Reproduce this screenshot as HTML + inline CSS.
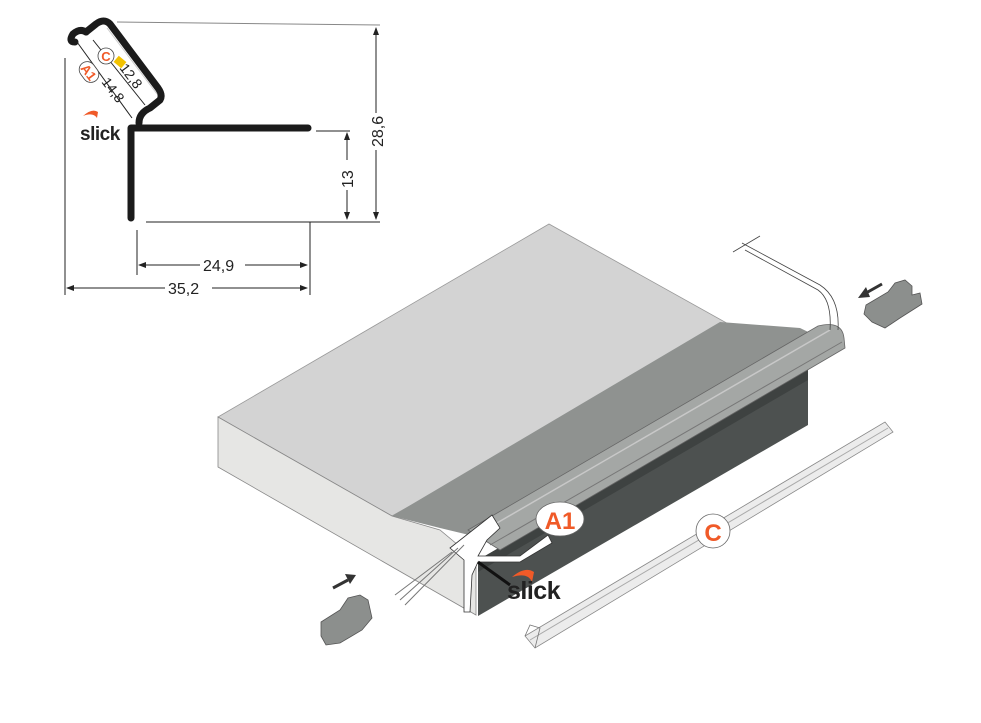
<!DOCTYPE html>
<html><head><meta charset="utf-8"><style>
html,body{margin:0;padding:0;background:#fff;}
svg{display:block;font-family:"Liberation Sans",sans-serif;}
</style></head><body>
<svg width="981" height="723" viewBox="0 0 981 723" xmlns="http://www.w3.org/2000/svg">
<defs>
<marker id="ar" markerWidth="8" markerHeight="8" refX="7" refY="4" orient="auto" markerUnits="userSpaceOnUse"><path d="M0,1 L8,4 L0,7 z" fill="#222"/></marker>
<marker id="al" markerWidth="8" markerHeight="8" refX="1" refY="4" orient="auto" markerUnits="userSpaceOnUse"><path d="M8,1 L0,4 L8,7 z" fill="#222"/></marker>
</defs>
<!-- top-left profile drawing -->
<g stroke="#222" stroke-width="1" fill="none">
<line x1="117" y1="22" x2="380" y2="25" stroke="#888"/>
<line x1="65" y1="58" x2="65" y2="295"/>
<line x1="137" y1="230" x2="137" y2="275"/>
<line x1="310" y1="222" x2="310" y2="295"/>
<line x1="146" y1="222" x2="380" y2="222"/>
<line x1="316" y1="131" x2="350" y2="131"/>
<line x1="376" y1="28" x2="376" y2="113" marker-start="url(#al)"/>
<line x1="376" y1="150" x2="376" y2="219" marker-end="url(#ar)"/>
<line x1="347" y1="133" x2="347" y2="160" marker-start="url(#al)"/>
<line x1="347" y1="190" x2="347" y2="219" marker-end="url(#ar)"/>
<line x1="139" y1="265" x2="200" y2="265" marker-start="url(#al)"/>
<line x1="245" y1="265" x2="307" y2="265" marker-end="url(#ar)"/>
<line x1="67" y1="288" x2="165" y2="288" marker-start="url(#al)"/>
<line x1="212" y1="288" x2="307" y2="288" marker-end="url(#ar)"/>
</g>
<g fill="none" stroke="#1b1b1b" stroke-width="7" stroke-linecap="round" stroke-linejoin="round">
<path d="M131,218 L131,128 L308,128"/>
<path d="M139,123 Q139,113 150,108 L160,100 Q163,95 158,88 L110,24 Q104,18 96,24 L86,32"/>
<path d="M86,32 Q80,28 73,34 Q68,42 75,42"/>
</g>
<line x1="107" y1="28" x2="157" y2="94" stroke="#ccc" stroke-width="1"/>
<rect x="115" y="58" width="10" height="8" fill="#f2c200" transform="rotate(40 120 62)"/>
<g stroke="#222" stroke-width="1" fill="none">
<line x1="77" y1="42" x2="132" y2="118"/>
<line x1="93" y1="40" x2="145" y2="105"/>
</g>
<text x="0" y="0" font-size="16" fill="#222" transform="translate(383,147) rotate(-90)">28,6</text>
<text x="0" y="0" font-size="16" fill="#222" transform="translate(353,188) rotate(-90)">13</text>
<text x="203" y="271" font-size="16" fill="#222">24,9</text>
<text x="168" y="294" font-size="16" fill="#222">35,2</text>
<text x="0" y="0" font-size="14" fill="#222" transform="translate(119,68) rotate(53)">12,8</text>
<text x="0" y="0" font-size="14" fill="#222" transform="translate(101,82) rotate(53)">14,8</text>
<g transform="translate(89,72) rotate(53)"><rect x="-11" y="-8" width="22" height="16" rx="8" fill="#fff" stroke="#444" stroke-width="0.8"/><text x="0" y="5" font-size="13" font-weight="bold" fill="#f05a28" text-anchor="middle">A1</text></g>
<circle cx="106" cy="56" r="8" fill="#fff" stroke="#444" stroke-width="0.8"/>
<text x="106" y="61" font-size="13" font-weight="bold" fill="#f05a28" text-anchor="middle">C</text>
<path d="M83,116 Q92,108 98,112 L97,118 Q93,112 83,116z" fill="#f05a28"/>
<text x="80" y="140" font-size="19" font-weight="bold" fill="#222" letter-spacing="-0.5">slick</text>

<!-- board -->
<polygon points="218,417 549,224 732,326 392,516" fill="#d3d3d3" stroke="#999" stroke-width="0.8"/>
<polygon points="392,516 720,322 800,328 835,345 490,540 440,528" fill="#8f9290"/>
<polygon points="218,417 392,516 440,530 476,560 476,615 218,467" fill="#e6e6e4" stroke="#888" stroke-width="0.8"/>
<polygon points="478,560 808,368 808,425 478,616" fill="#4d5150"/>
<polygon points="478,560 808,368 808,380 478,572" fill="#3e4241"/>
<!-- tube -->
<path d="M468,530 L818,326 Q842,320 844,338 L845,348 L500,550 Z" fill="#a4a7a5" stroke="#666" stroke-width="0.8"/>
<line x1="478" y1="534" x2="830" y2="330" stroke="#c8c8c8" stroke-width="1.5"/>
<line x1="490" y1="545" x2="842" y2="342" stroke="#777" stroke-width="1"/>
<!-- profile end -->
<path d="M450,548 L492,515 L500,528 L487,540 L478,556 L520,556 L548,535 L552,543 L520,562 L478,562 L472,575 L470,612 L464,612 L464,560 Z" fill="#fff" stroke="#333" stroke-width="0.8"/>
<g stroke="#777" stroke-width="1" fill="none">
<path d="M458,548 L400,600 M464,545 L405,605 M452,552 L395,595"/>
</g>
<line x1="478" y1="562" x2="510" y2="585" stroke="#111" stroke-width="3"/>
<!-- cable -->
<path d="M742,243 L820,285 Q840,298 838,330" fill="none" stroke="#444" stroke-width="0.8"/>
<path d="M745,250 L818,290 Q832,300 830,330" fill="none" stroke="#444" stroke-width="0.8"/>
<line x1="733" y1="252" x2="760" y2="236" stroke="#444" stroke-width="0.8"/>
<!-- clips -->
<path d="M866,305 L888,292 L895,283 L905,280 L912,286 L912,295 L920,293 L922,304 L900,318 L885,328 L872,322 L864,314 Z" fill="#8c8f8d" stroke="#555" stroke-width="0.8"/>
<path d="M321,622 L340,610 L348,598 L360,595 L368,600 L372,618 L362,630 L340,643 L326,645 L321,636 Z" fill="#8c8f8d" stroke="#555" stroke-width="0.8"/>
<line x1="882" y1="284" x2="866" y2="293" stroke="#333" stroke-width="3"/>
<polygon points="858,298 866,287 870,297" fill="#333"/>
<line x1="333" y1="588" x2="348" y2="580" stroke="#333" stroke-width="3"/>
<polygon points="356,575 345,574 350,584" fill="#333"/>
<!-- rail C -->
<polygon points="525,636 885,422 893,432 535,648" fill="#ececec" stroke="#888" stroke-width="0.8"/>
<line x1="530" y1="640" x2="888" y2="428" stroke="#aaa" stroke-width="1"/>
<path d="M525,636 L530,625 L540,628 L535,648" fill="none" stroke="#777" stroke-width="0.8"/>
<!-- labels -->
<ellipse cx="560" cy="519" rx="24" ry="17" fill="#fff" stroke="#666" stroke-width="0.8"/>
<text x="560" y="529" font-size="24" font-weight="bold" fill="#f05a28" text-anchor="middle">A1</text>
<circle cx="713" cy="531" r="17" fill="#fff" stroke="#666" stroke-width="0.8"/>
<text x="713" y="541" font-size="24" font-weight="bold" fill="#f05a28" text-anchor="middle">C</text>
<path d="M512,577 Q525,566 534,572 L532,582 Q528,572 512,577z" fill="#f05a28"/>
<text x="507" y="599" font-size="25" font-weight="bold" fill="#222" letter-spacing="-0.5">slick</text>
</svg>
</body></html>
